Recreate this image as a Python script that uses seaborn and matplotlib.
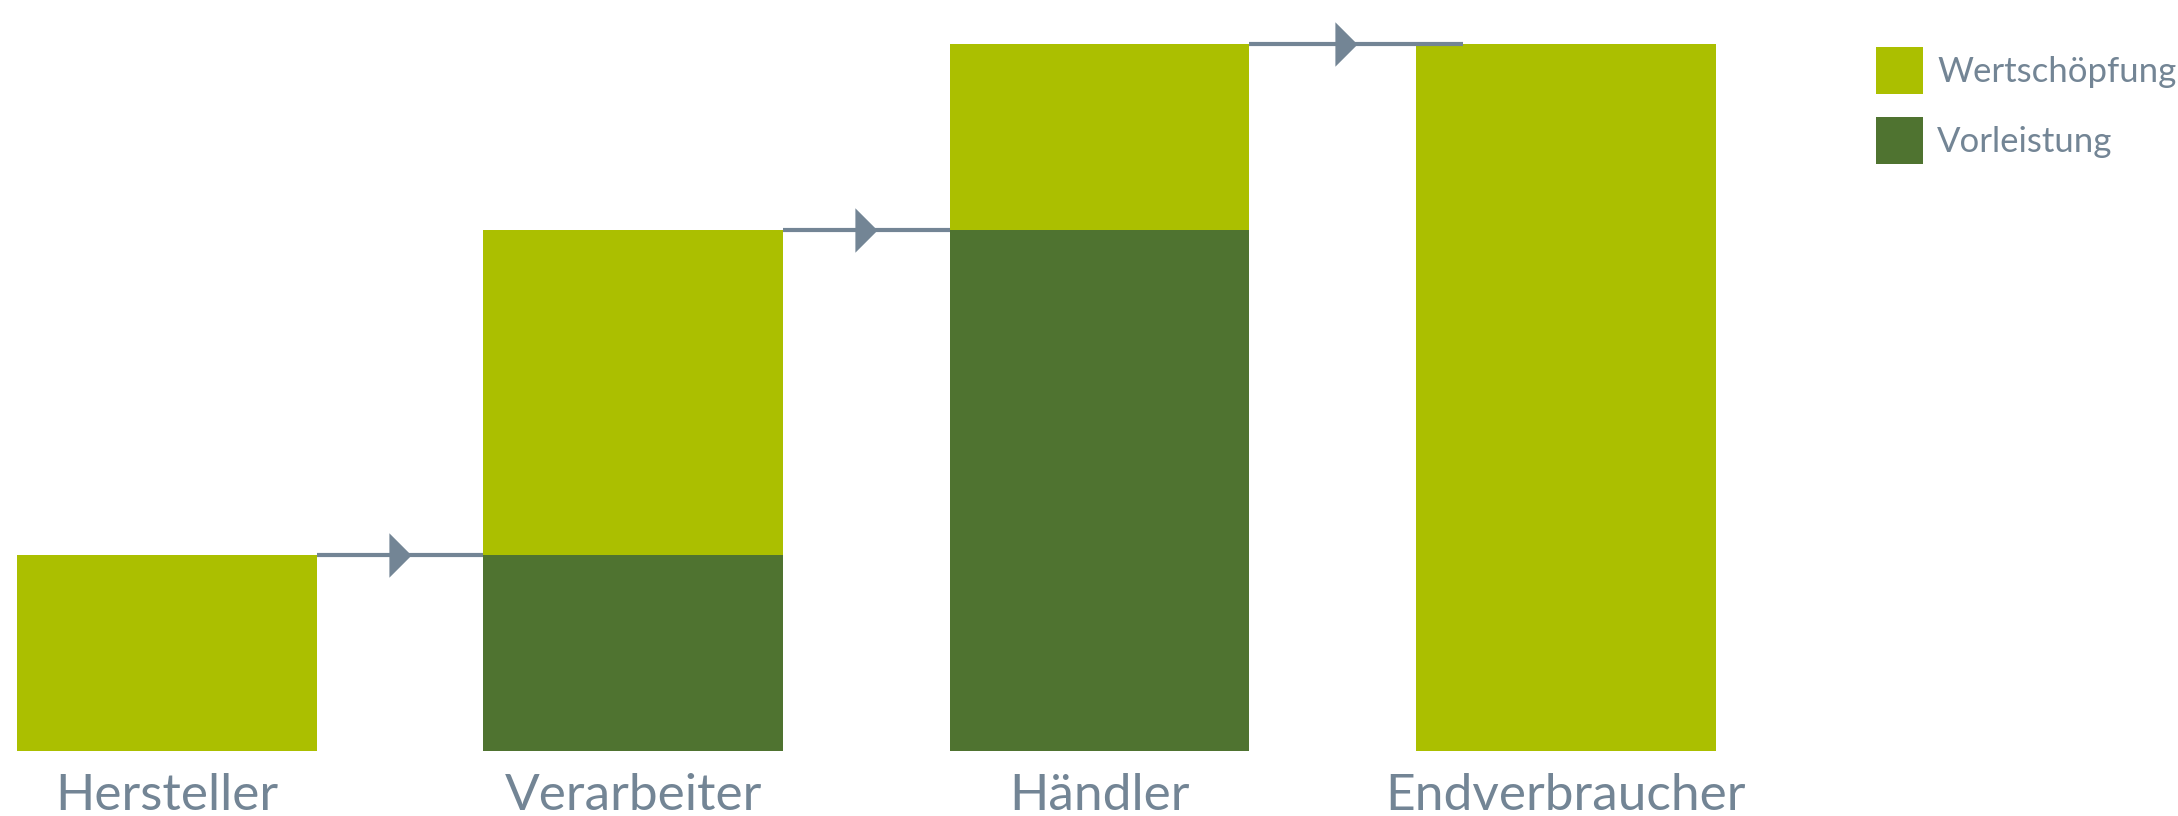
import matplotlib
matplotlib.use("Agg")
import matplotlib.pyplot as plt
import seaborn as sns
import pandas as pd
from matplotlib.patches import Rectangle

# Value chain: input costs (Vorleistung) and value added (Wertschöpfung) per stage
stages = ["Hersteller", "Verarbeiter", "Händler", "Endverbraucher"]
vorleistung = [0, 27.7, 73.7, 0]
wertschoepfung = [27.7, 46.0, 26.3, 100]
totals = [v + w for v, w in zip(vorleistung, wertschoepfung)]
legend_labels = ["Wertschöpfung", "Vorleistung"]

light_green = "#ABBF00"
dark_green = "#4F7330"
grey = "#738595"

sns.set_theme(style="white")
plt.rcParams["font.family"] = ["Lato", "DejaVu Sans"]

df = pd.DataFrame({"stage": stages, "total": totals, "vor": vorleistung})

W, H = 2178, 816
fig = plt.figure(figsize=(W / 100, H / 100), dpi=100)
bottom_px, top_px = 751, 44
right_px = 1799
ax = fig.add_axes([0, 1 - bottom_px / H, right_px / W, (bottom_px - top_px) / H])

bar_w = 0.643
sns.barplot(data=df, x="stage", y="total", color=light_green, width=bar_w,
            saturation=1, ax=ax, linewidth=0)
sns.barplot(data=df, x="stage", y="vor", color=dark_green, width=bar_w,
            saturation=1, ax=ax, linewidth=0)

ax.set_xlim(-0.358, 3.5)
ax.set_ylim(0, 100)
ax.set_xlabel("")
ax.set_ylabel("")
ax.set_yticks([])
for s in ax.spines.values():
    s.set_visible(False)
ax.tick_params(axis="x", length=0, pad=16, labelsize=37, labelcolor=grey)

# tall, narrow arrow head
head = [(-0.25, -0.5), (-0.25, 0.5), (0.25, 0.0)]

# Flow arrows: from the top of each stage to the start of the next
for i in range(3):
    x0 = i + bar_w / 2
    gap_end = i + 1 - bar_w / 2
    x1 = gap_end + (0.1 if i == 2 else 0)
    y = totals[i]
    ax.plot([x0, x1], [y, y], color=grey, lw=3, solid_capstyle="butt",
            clip_on=False, zorder=1 if i == 2 else 3)
    xm = (x0 + gap_end) / 2 + (0.028 if i == 2 else 0)
    ax.plot([xm], [y], linestyle="none", marker=head, markersize=32,
            color=grey, markeredgewidth=0, clip_on=False, zorder=4)

# Legend: colour squares with labels
sq = 47
for j, (lab, col) in enumerate(zip(legend_labels, [light_green, dark_green])):
    top = 47 + j * 70
    fig.add_artist(Rectangle((1876 / W, 1 - (top + sq) / H), sq / W, sq / H,
                             transform=fig.transFigure, facecolor=col,
                             edgecolor="none"))
    fig.text(1937 / W, 1 - (top + sq / 2 + 12) / H, lab, fontsize=25,
             color=grey, ha="left", va="baseline")

fig.savefig("out.png", dpi=100)
